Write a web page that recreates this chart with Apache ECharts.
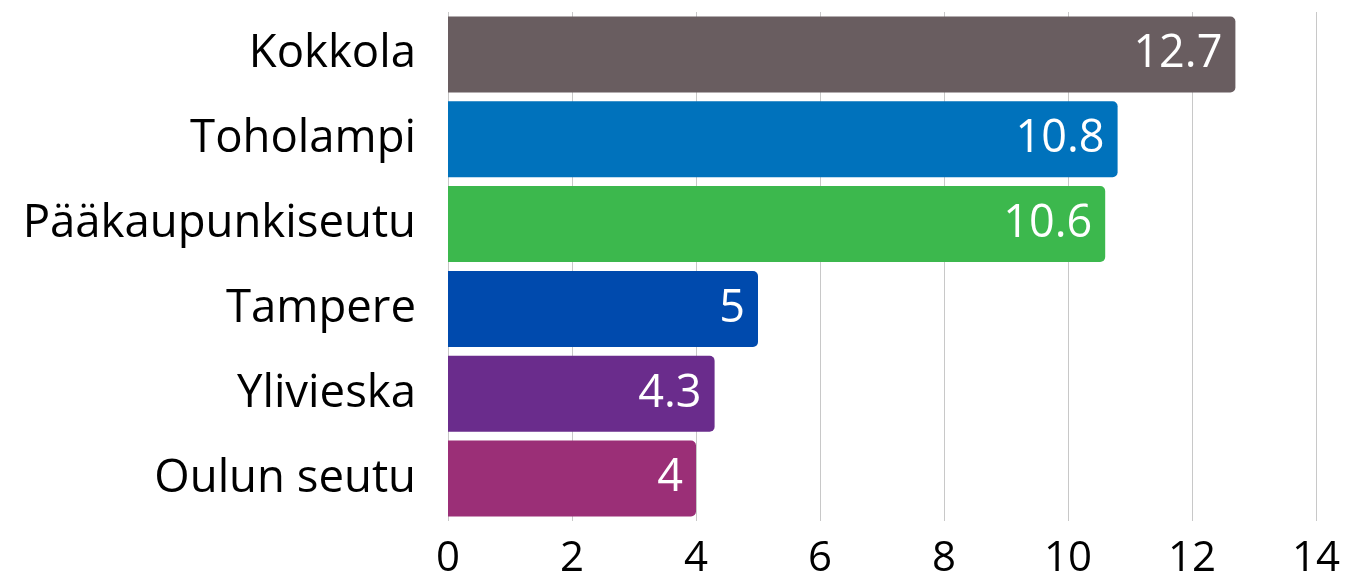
<!DOCTYPE html>
<html>
<head>
<meta charset="utf-8">
<script src="https://cdn.jsdelivr.net/npm/echarts@6/dist/echarts.min.js"></script>
<style>
  html, body { margin: 0; padding: 0; background: #fff; }
  #chart { width: 1346px; height: 576px; }
</style>
</head>
<body>
<div id="chart"></div>
<script>
const categories = ['Kokkola', 'Toholampi', 'Pääkaupunkiseutu', 'Tampere', 'Ylivieska', 'Oulun seutu']
const values = [12.7, 10.8, 10.6, 5, 4.3, 4]
const colors = ['#695d60', '#0072bc', '#3cb84d', '#004aad', '#6a2c8c', '#9b2f77']

const chart = echarts.init(document.getElementById('chart'))
chart.setOption({
  animation: false,
  textStyle: { fontFamily: 'Open Sans' },
  grid: {
    left: 448,
    right: 30,
    top: 12,
    bottom: 55,
    containLabel: false,
    outerBoundsMode: 'none',
  },
  xAxis: {
    type: 'value',
    min: 0,
    max: 14,
    interval: 2,
    axisLine: { show: false },
    axisTick: { show: false },
    axisLabel: {
      color: '#000',
      fontSize: 42,
      margin: 17,
      fontFamily: 'Open Sans',
    },
    splitLine: {
      lineStyle: { color: '#c8c8c8', width: 1 },
    },
  },
  yAxis: {
    type: 'category',
    inverse: true,
    data: categories,
    axisLine: { show: false },
    axisTick: { show: false },
    axisLabel: {
      color: '#000',
      fontSize: 45.5,
      margin: 32,
      fontFamily: 'Open Sans',
    },
  },
  series: [
    {
      type: 'bar',
      barCategoryGap: '10.4%',
      data: values.map((v, i) => ({
        value: v,
        itemStyle: { color: colors[i], borderRadius: [0, 5, 5, 0] },
      })),
      label: {
        show: true,
        position: 'insideRight',
        distance: 13,
        color: '#fff',
        fontSize: 45,
        fontFamily: 'Open Sans',
      },
    },
  ],
})
</script>
</body>
</html>
